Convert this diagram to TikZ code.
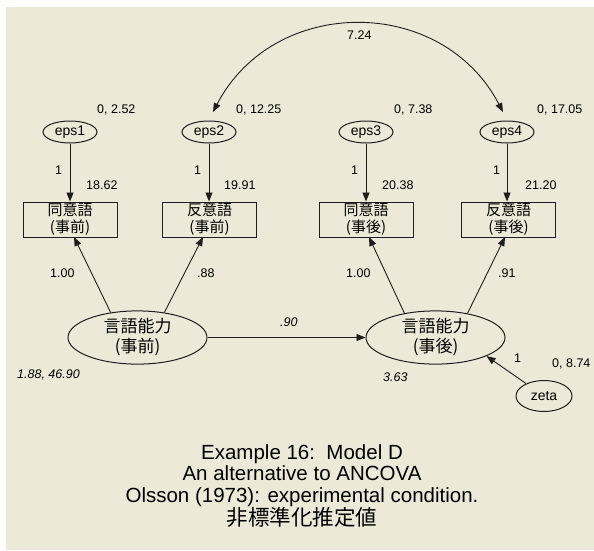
\documentclass[tikz,border=0pt]{standalone}
\usepackage{fontspec}
\setmainfont{Liberation Sans}
\newfontfamily\jp{Noto Sans CJK JP}
\usetikzlibrary{arrows.meta,shapes.geometric,calc}
\definecolor{bg}{RGB}{236,233,216}
\definecolor{ink}{RGB}{30,30,30}
\begin{document}
\begin{tikzpicture}[x=1pt,y=-1pt,
  lbl/.style={font=\fontsize{12.5}{14}\selectfont, inner sep=0pt, anchor=west},
  ilbl/.style={font=\fontsize{12.5}{14}\selectfont\itshape, inner sep=0pt, anchor=west},
  errv/.style={ellipse, draw=ink, line width=1pt, minimum width=54pt, minimum height=22pt, inner sep=0pt, font=\fontsize{14}{15}\selectfont},
  obs/.style={rectangle, draw=ink, line width=1pt, minimum width=94pt, minimum height=35pt, inner sep=0pt, align=center, font=\jp\fontsize{15}{17}\selectfont},
  lat/.style={ellipse, draw=ink, line width=1pt, minimum width=139pt, minimum height=53pt, inner sep=0pt, align=center, font=\jp\fontsize{17}{20}\selectfont},
  arr/.style={draw=ink, -{Triangle[length=9pt,width=7pt]}, line width=0.9pt},
  darr/.style={draw=ink, {Triangle[length=9pt,width=7pt]}-{Triangle[length=9pt,width=7pt]}, line width=0.9pt},
  ]
\useasboundingbox (0,0) rectangle (594,550);
\fill[white] (0,0) rectangle (594,550);
\fill[bg] (6,7) rectangle (594,550);

% error variables
\node[errv] (eps1) at (70,132) {eps1};
\node[errv] (eps2) at (209,132) {eps2};
\node[errv] (eps3) at (366,132) {eps3};
\node[errv] (eps4) at (507,132) {eps4};

% observed
\node[obs] (box1) at (70,219.5) {同意語\\(事前)};
\node[obs] (box2) at (209.5,219.5) {反意語\\(事前)};
\node[obs] (box3) at (366,219.5) {同意語\\(事後)};
\node[obs] (box4) at (508.5,219.5) {反意語\\(事後)};

% latent
\node[lat] (lat1) at (137.5,337.5) {言語能力\\(事前)};
\node[lat] (lat2) at (435.5,337.5) {言語能力\\(事後)};
\node[errv, minimum width=56pt, minimum height=31pt] (zeta) at (544,396) {zeta};

% eps -> boxes
\draw[arr] (eps1) -- (box1);
\draw[arr] (eps2.south) -- (eps2.south |- box2.north);
\draw[arr] (eps3) -- (box3);
\draw[arr] (eps4.south) -- (eps4.south |- box4.north);

% latent -> boxes
\coordinate (t1) at (74,237);
\coordinate (t2) at (203,237);
\coordinate (t3) at (369,237);
\coordinate (t4) at (505,237);
\draw[arr] (lat1.137) -- (t1);
\draw[arr] (lat1.43) -- (t2);
\draw[arr] (lat2.142) -- (t3);
\draw[arr] (lat2.37) -- (t4);

% structural
\draw[arr] (lat1) -- (lat2);
\draw[arr] (zeta) -- (lat2.-20);

% covariance
\coordinate (c2) at (213,112);
\coordinate (c4) at (503,112);
\draw[darr] (c2) .. controls (274,-5) and (442,-5) .. (c4);

% labels
\node[lbl] at (97,110) {0, 2.52};
\node[lbl] at (236,110) {0, 12.25};
\node[lbl] at (394,110) {0, 7.38};
\node[lbl] at (537,110) {0, 17.05};
\node[lbl] at (55,170) {1};
\node[lbl] at (194,170) {1};
\node[lbl] at (351,170) {1};
\node[lbl] at (493,170) {1};
\node[lbl] at (86,185) {18.62};
\node[lbl] at (224,185) {19.91};
\node[lbl] at (382,185) {20.38};
\node[lbl] at (525,185) {21.20};
\node[lbl] at (50,273) {1.00};
\node[lbl] at (197,273) {.88};
\node[lbl] at (346,273) {1.00};
\node[lbl] at (498,273) {.91};
\node[lbl] at (347,35) {7.24};
\node[lbl] at (514,358) {1};
\node[lbl] at (552,364) {0, 8.74};
\node[ilbl] at (280,322) {.90};
\node[ilbl] at (17,375) {1.88, 46.90};
\node[ilbl] at (383,377) {3.63};

% title
\node[align=center, inner sep=0pt, font=\fontsize{20.5}{21.7}\selectfont] (title) at (302,486)
  {Example 16:\ \ Model D\\An alternative to ANCOVA\\Olsson (1973): experimental condition.\\{\jp\fontsize{21.5}{21.7}\selectfont 非標準化推定値}};
\end{tikzpicture}
\end{document}
